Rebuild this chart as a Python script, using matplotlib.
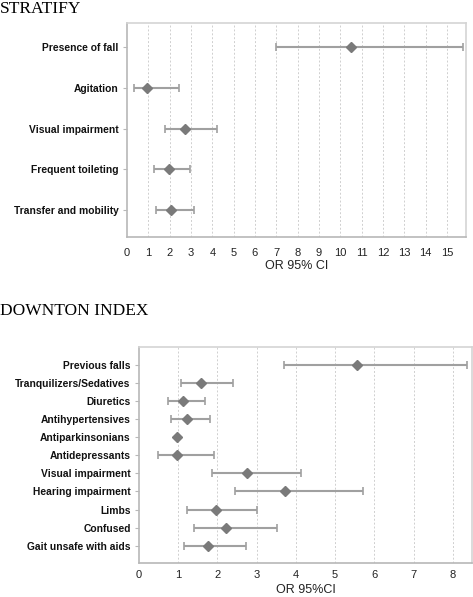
import matplotlib
matplotlib.use('Agg')
import matplotlib.pyplot as plt

plt.rcParams['font.family'] = ['Liberation Sans', 'DejaVu Sans']

# STRATIFY
strat_labels = ['Presence of fall', 'Agitation', 'Visual impairment',
                'Frequent toileting', 'Transfer and mobility']
strat_or = [10.5, 0.96, 2.73, 1.95, 2.04]
strat_lo = [6.97, 0.34, 1.79, 1.28, 1.36]
strat_hi = [15.76, 2.46, 4.2, 2.96, 3.12]

# DOWNTON INDEX
down_labels = ['Previous falls', 'Tranquilizers/Sedatives', 'Diuretics',
               'Antihypertensives', 'Antiparkinsonians', 'Antidepressants',
               'Visual impairment', 'Hearing impairment', 'Limbs', 'Confused',
               'Gait unsafe with aids']
down_or = [5.55, 1.59, 1.11, 1.23, 0.98, 0.98, 2.75, 3.72, 1.97, 2.23, 1.77]
down_lo = [3.69, 1.08, 0.73, 0.82, 0.98, 0.49, 1.85, 2.45, 1.23, 1.40, 1.14]
down_hi = [8.35, 2.40, 1.69, 1.82, 0.98, 1.90, 4.12, 5.72, 3.00, 3.53, 2.72]

fig = plt.figure(figsize=(4.73, 5.97), dpi=100)


def forest(ax, labels, ors, lo, hi, xmax, xticks, ylim, xlabel, tick_pad, lab_pad):
    ys = list(range(len(labels)))
    err = [[o - l for o, l in zip(ors, lo)], [h - o for o, h in zip(ors, hi)]]
    ax.errorbar(ors, ys, xerr=err, fmt='none', ecolor='#a0a0a0',
                elinewidth=1.5, capsize=3, capthick=1.2, zorder=3)
    ax.plot(ors, ys, 'D', color='#7a7a7a', markersize=5.5, zorder=4)
    ax.set_xlim(0, xmax)
    ax.set_ylim(*ylim)
    ax.set_xticks(xticks)
    ax.set_xticklabels([str(t) for t in xticks], fontsize=8, color='#222222')
    ax.set_yticks(ys)
    ax.set_yticklabels(labels, fontsize=7.4, fontweight='bold', color='#111111')
    for t in xticks[1:]:
        ax.axvline(t, color='#cfcfcf', lw=0.7, ls=(0, (2, 2)), zorder=1)
    for s in ax.spines.values():
        s.set_color('#d4d4d4')
        s.set_linewidth(1.2)
    ax.spines['left'].set_color('#b8b8b8')
    ax.spines['bottom'].set_color('#b8b8b8')
    ax.tick_params(axis='x', length=0, pad=tick_pad)
    ax.tick_params(axis='y', length=3, color='#b8b8b8', pad=3)
    ax.set_xlabel(xlabel, fontsize=9, color='#222222', labelpad=lab_pad)


ax1 = fig.add_axes([0.2685, 0.603, 0.7157, 0.3585])
forest(ax1, strat_labels, strat_or, strat_lo, strat_hi, 15.87,
       list(range(16)), (4.66, -0.59), 'OR 95% CI', 8, 1)

ax2 = fig.add_axes([0.2939, 0.0564, 0.704, 0.3618])
forest(ax2, down_labels, down_or, down_lo, down_hi, 8.49,
       list(range(9)), (10.97, -0.96), 'OR 95%CI', 5, 3)

fig.text(0.0, 1 - 9 / 597, 'STRATIFY', family='Liberation Serif',
         fontsize=12.5, va='center', ha='left')
fig.text(0.0, 1 - 311 / 597, 'DOWNTON INDEX', family='Liberation Serif',
         fontsize=12.5, va='center', ha='left')

fig.savefig('out.png', dpi=100)
